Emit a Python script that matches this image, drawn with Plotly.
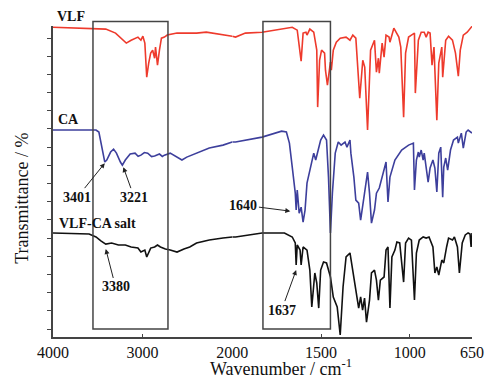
import plotly.graph_objects as go
import numpy as np

# ---------------- data (wavenumber cm-1, transmittance in stacked arbitrary %) ----------------
wn_vlf = [4000, 3564, 3411, 3302, 3182, 3128, 3052, 3019, 2997, 2975, 2954, 2932, 2910, 2888, 2866, 2856,
          2834, 2812, 2790, 2757, 2725, 2616, 2398, 2289, 2038, 2000,
          1981, 1926, 1832, 1662, 1634, 1612, 1601, 1585, 1579, 1563, 1541, 1524, 1519, 1508, 1497, 1480,
          1475, 1464, 1447, 1442, 1431, 1414, 1392, 1359, 1337, 1321, 1304, 1282, 1265, 1254, 1238, 1221,
          1199, 1188, 1177, 1172, 1156, 1145, 1134, 1117, 1112, 1090, 1079, 1062, 1051, 1035, 1024, 1007,
          991, 974, 969, 952, 936, 919, 908, 897, 886, 875, 864, 848, 837, 820, 815, 798, 782, 760, 743,
          727, 716, 699, 677, 661, 650]
t_vlf = [165.9, 165.4, 164.9, 162.7, 157.2, 158.8, 160.5, 158.8, 161.0, 157.2, 138.5, 146.2, 151.7, 153.3, 148.9, 155.0,
         145.1, 153.3, 159.9, 160.5, 161.6, 162.7, 162.7, 163.2, 161.6, 161.0,
         160.5, 162.7, 163.2, 165.9, 164.3, 147.3, 162.7, 163.2, 161.6, 164.9, 163.2, 153.3, 122.0, 147.8, 153.3, 151.7,
         142.3, 134.1, 146.7, 142.3, 153.3, 157.7, 159.9, 160.5, 158.8, 161.6, 159.9, 126.9, 147.8, 144.0, 109.4, 153.3,
         158.8, 141.2, 148.9, 140.7, 157.2, 149.5, 161.6, 160.5, 157.7, 165.4, 163.2, 160.5, 155.0, 116.5, 151.7, 160.5,
         161.6, 162.7, 129.7, 158.8, 163.2, 163.2, 160.5, 163.2, 162.7, 145.1, 155.0, 114.8, 146.2, 155.0, 138.5, 158.8, 161.0, 158.8, 151.7,
         139.0, 153.3, 161.6, 163.2, 165.4, 166.4]

wn_ca = [4000, 3520, 3488, 3455, 3422, 3400, 3357, 3324, 3292, 3248, 3226, 3193, 3139, 3084, 3050, 3019, 2980, 2943,
         2900, 2866, 2812, 2780, 2757, 2692, 2616, 2561, 2507, 2398, 2256, 2103, 2000,
         1981, 1832, 1722, 1695, 1678, 1662, 1645, 1640, 1634, 1623, 1612, 1601, 1590, 1579, 1557, 1541, 1530,
         1519, 1502, 1486, 1469, 1458, 1447, 1436, 1420, 1403, 1387, 1365, 1354, 1337, 1332, 1315, 1304, 1288,
         1277, 1255, 1238, 1227, 1216, 1199, 1188, 1172, 1156, 1139, 1134, 1123, 1112, 1084, 1046, 1007, 980,
         974, 963, 952, 947, 936, 925, 919, 897, 886, 870, 859, 848, 837, 826, 815, 809, 798, 787, 771, 754,
         732, 727, 710, 699, 683, 672, 650]
t_ca = [109.4, 109.4, 108.3, 100.0, 91.8, 92.9, 97.3, 98.9, 96.7, 91.8, 90.1, 92.9, 96.2, 96.7, 95.0, 95.6, 97.0, 96.7,
        94.8, 95.1, 96.2, 94.9, 95.6, 96.7, 94.5, 92.9, 94.5, 96.7, 99.5, 101.1, 102.8,
        102.8, 105.5, 108.8, 108.3, 102.2, 89.0, 74.7, 65.4, 76.4, 63.7, 67.0, 58.8, 65.4, 80.2, 89.0, 96.7, 92.9,
        97.3, 103.9, 106.6, 103.9, 83.5, 52.8, 74.7, 96.7, 102.8, 101.1, 102.8, 100.0, 103.9, 96.7, 83.5, 70.9, 69.2,
        59.9, 74.7, 86.3, 74.7, 58.2, 65.4, 74.7, 77.5, 83.5, 89.0, 91.8, 69.8, 83.5, 92.9, 98.4, 101.1, 102.2,
        76.4, 92.9, 97.3, 94.5, 98.4, 92.9, 96.7, 80.8, 88.5, 92.9, 88.5, 75.3, 96.7, 100.0, 72.5, 89.0, 94.0, 87.4, 98.4, 103.9,
        105.5, 102.2, 107.7, 99.5, 108.3, 109.4, 107.7]

wn_salt = [4000, 3597, 3520, 3466, 3411, 3346, 3270, 3193, 3128, 3052, 3019, 2975, 2954, 2932, 2910, 2866, 2834,
           2801, 2746, 2692, 2616, 2539, 2474, 2398, 2256, 2103, 2000,
           1981, 1832, 1706, 1662, 1645, 1640, 1634, 1618, 1612, 1601, 1579, 1563, 1552, 1535, 1524, 1513, 1502,
           1486, 1469, 1447, 1431, 1409, 1392, 1376, 1359, 1337, 1321, 1304, 1288, 1277, 1266, 1255, 1244, 1227,
           1216, 1199, 1188, 1177, 1166, 1145, 1134, 1123, 1112, 1101, 1084, 1073, 1057, 1035, 1024, 1007, 991,
           974, 963, 947, 925, 908, 892, 870, 859, 848, 837, 820, 809, 793, 782, 760, 749, 732, 721, 705, 688,
           672, 661, 655, 650]
t_salt = [52.8, 52.2, 50.6, 48.4, 46.7, 47.3, 46.2, 46.2, 45.1, 44.5, 42.3, 43.4, 39.6, 42.3, 44.5, 45.1, 46.2,
          45.1, 44.0, 43.4, 42.3, 44.0, 45.1, 47.3, 48.9, 50.0, 50.6,
          50.6, 52.8, 52.8, 50.6, 47.3, 35.2, 46.2, 43.4, 35.2, 45.1, 43.4, 32.4, 12.1, 30.8, 25.3, 11.5, 32.4,
          36.8, 36.3, 28.6, 17.6, 12.1, -3.3, 23.1, 39.6, 41.8, 32.4, 23.1, 11.5, 17.6, 10.4, 17.0, 3.8, 15.9,
          30.8, 32.4, 26.9, 15.9, 26.9, 28.6, 43.4, 45.1, 11.5, 39.6, 43.4, 47.8, 47.3, 25.8, 47.3, 50.0, 48.9,
          15.9, 41.8, 48.9, 50.6, 50.0, 50.6, 45.1, 30.8, 34.1, 29.7, 37.9, 36.3, 45.1, 50.0, 48.9, 50.6, 45.1, 30.8, 47.3, 51.7,
          52.8, 52.2, 45.1, 52.8]

series_names = ["VLF", "CA", "VLF-CA salt"]
series_colors = ["#ee3a2c", "#3d3f9c", "#111111"]

x_ticks_high = [4000, 3000]
x_ticks_low = [2000, 1500, 1000, 650]
y_ticks = list(range(0, 161, 10))

# peak annotations: (text, axis, text wn, text T, peak wn, peak T)
peak_labels = [
    ("3401", "x", 3728, 72.5, 3422, 91.2),
    ("3221", "x", 3095, 72.5, 3215, 89.0),
    ("1640", "x2", 1937, 68.1, 1673, 64.8),
    ("3380", "x", 3302, 23.1, 3411, 44.0),
    ("1637", "x2", 1722, 10.4, 1640, 32.4),
]
# series name labels: (text, wn, paper y)
name_labels = [("VLF", 3804, 1.031), ("CA", 3826, 0.699), ("VLF-CA salt", 3499, 0.366)]
# highlight boxes (wavenumber ranges)
boxes = [("x", 3554, 2717), ("x2", 1827, 1447)]

# ---------------- figure ----------------
FONT = "Liberation Serif, Times New Roman, serif"
fig = go.Figure()
for wn, t, col in zip([wn_vlf, wn_ca, wn_salt], [t_vlf, t_ca, t_salt], series_colors):
    wn = np.array(wn, float)
    t = np.array(t, float)
    hi = wn >= 2000
    lo = wn <= 2000
    fig.add_trace(go.Scatter(x=wn[hi], y=t[hi], mode="lines", line=dict(color=col, width=1.6),
                             xaxis="x", yaxis="y", showlegend=False, hoverinfo="skip"))
    fig.add_trace(go.Scatter(x=wn[lo], y=t[lo], mode="lines", line=dict(color=col, width=1.6),
                             xaxis="x2", yaxis="y", showlegend=False, hoverinfo="skip"))

split = (236.5 - 53) / 429.0
axis_common = dict(showline=True, linecolor="#444", linewidth=1.5, showgrid=False, zeroline=False,
                   ticks="inside", ticklen=3, tickcolor="#444", tickwidth=1,
                   tickfont=dict(family=FONT, size=16, color="#111"))
# page body has an 8px margin: figure is 488x370, plot area 429x311 placed at (53,26) of the window
fig.update_layout(
    width=488, height=370,
    margin=dict(l=45, r=14, t=18, b=41),
    paper_bgcolor="white", plot_bgcolor="white",
    xaxis=dict(domain=[0, split], range=[4000, 2000], tickvals=x_ticks_high, anchor="y", **axis_common),
    xaxis2=dict(domain=[split, 1], range=[2000, 650], tickvals=x_ticks_low, anchor="y", **axis_common),
    yaxis=dict(range=[-4.4, 166.6], tickvals=y_ticks, showticklabels=False, showline=True, linecolor="#444",
               linewidth=1.5, showgrid=False, zeroline=False, ticks="outside", ticklen=4, tickcolor="#444",
               tickwidth=1, anchor="x"),
)

for ax, x0, x1 in boxes:
    fig.add_shape(type="rect", xref=ax, yref="paper", x0=x0, x1=x1, y0=0.026, y1=1.0145,
                  line=dict(color="#444", width=1.5), fillcolor="rgba(0,0,0,0)", layer="above")

for txt, wn, py in name_labels:
    fig.add_annotation(x=wn, y=py, xref="x", yref="paper", text="<b>%s</b>" % txt, showarrow=False,
                       xanchor="center", yanchor="middle",
                       font=dict(family=FONT, size=14, color="#111"))

for txt, ax, tx, ty, px, py in peak_labels:
    fig.add_annotation(x=px, y=py, xref=ax, yref="y", ax=tx, ay=ty, axref=ax, ayref="y",
                       text="<b>%s</b>" % txt, showarrow=True, arrowhead=2, arrowsize=1, arrowwidth=1,
                       arrowcolor="#222", font=dict(family=FONT, size=14, color="#111"))

fig.add_annotation(x=(286 - 53) / 429.0, y=(337 - 367) / 311.0, xref="paper", yref="paper",
                   xanchor="center", yanchor="middle",
                   text="Wavenumber / cm<sup>-1</sup>", showarrow=False,
                   font=dict(family=FONT, size=18, color="#111"))
fig.add_annotation(x=(21 - 53) / 429.0, y=(337 - 198) / 311.0, xref="paper", yref="paper",
                   xanchor="center", yanchor="middle",
                   text="Transmittance / %", textangle=-90, showarrow=False,
                   font=dict(family=FONT, size=18, color="#111"))

fig.write_html("out.html")
